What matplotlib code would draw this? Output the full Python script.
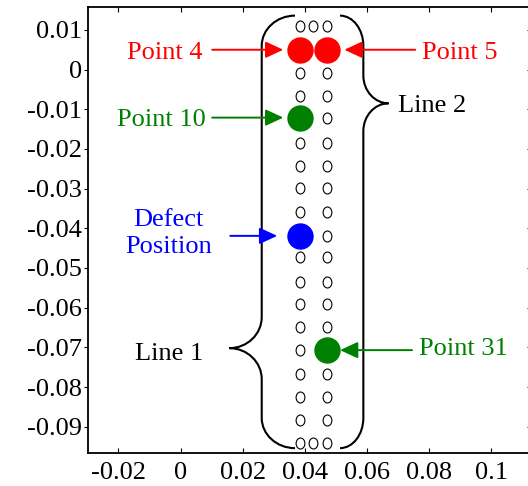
import matplotlib
matplotlib.use("Agg")
import matplotlib.pyplot as plt
from matplotlib.path import Path
from matplotlib.patches import PathPatch, ArrowStyle
from matplotlib.transforms import Affine2D

plt.rcParams['font.family'] = ['Liberation Serif', 'DejaVu Serif']
plt.rcParams['font.size'] = 19
plt.rcParams['axes.unicode_minus'] = False

# sensor layout: two columns, plus a middle sensor on the first and last row
col_x = [0.0385, 0.0426, 0.0471]
row_y = [0.0110, 0.0050, -0.0008, -0.0066, -0.0121, -0.0186, -0.0242, -0.0299,
         -0.0358, -0.0419, -0.0473, -0.0535, -0.0591, -0.0649, -0.0707,
         -0.0767, -0.0824, -0.0883, -0.0940]

# highlighted points (numbered from 1, row by row)
hl_num = [4, 5, 10, 20, 31]
hl_label = ['Point 4', 'Point 5', 'Point 10', 'Defect\nPosition', 'Point 31']
hl_color = ['#ff0000', '#ff0000', '#008000', '#0000ff', '#008000']
# arrow lengths in points: tail offset, tip shrink, text offset, text dy, align
hl_tail = [-63.4, 63.6, -63.4, -50.4, 61.2]
hl_shrink = [12.2, 12.5, 12.2, 16.6, 9.4]
hl_text_dx = [-70.6, 68.6, -68.4, -95.0, 66.2]
hl_text_dy = [-6.5, -6.7, -5.8, -12.5, -3.6]
hl_ha = ['right', 'left', 'right', 'center', 'left']

# braces: vertical x, tip x, end x, top y, bottom y, tip y
brace_names = ['Line 1', 'Line 2']
brace_xv = [0.0261, 0.0588]
brace_xt = [0.0157, 0.0669]
brace_xe = [0.0368, 0.0513]
brace_yt = [0.0136, 0.0136]
brace_yb = [-0.0954, -0.0954]
brace_ym = [-0.0702, -0.0085]
brace_h = [0.0078, 0.0070]

xticks = [-0.02, 0, 0.02, 0.04, 0.06, 0.08, 0.1]
xtick_labels = ['-0.02', '0', '0.02', '0.04', '0.06', '0.08', '0.1']
yticks = [0.01, 0, -0.01, -0.02, -0.03, -0.04, -0.05, -0.06, -0.07, -0.08, -0.09]
ytick_labels = ['0.01', '0', '-0.01', '-0.02', '-0.03', '-0.04', '-0.05',
                '-0.06', '-0.07', '-0.08', '-0.09']

# point coordinates
px, py = [], []
for i, y in enumerate(row_y):
    if i == 0 or i == len(row_y) - 1:
        cols = col_x
    else:
        cols = [col_x[0], col_x[2]]
    for x in cols:
        px.append(x)
        py.append(y)

fig = plt.figure(figsize=(5.28, 4.86), dpi=100)
ax = fig.add_axes([88.3 / 528, 32.7 / 486, 443.5 / 528, 446 / 486])
ax.set_xlim(-0.0297, 0.1130)
ax.set_ylim(-0.0967, 0.0157)

# slightly tall open circles
oval = Affine2D().scale(0.8, 1.0).transform_path(Path.unit_circle())
ax.plot(px, py, linestyle='none', marker=oval, markersize=7.9,
        markerfacecolor='white', markeredgecolor='black', markeredgewidth=0.8,
        zorder=3)

for n, lab, c, tl, sh, tdx, tdy, ha in zip(hl_num, hl_label, hl_color, hl_tail,
                                           hl_shrink, hl_text_dx, hl_text_dy,
                                           hl_ha):
    x, y = px[n - 1], py[n - 1]
    ax.plot([x], [y], linestyle='none', marker='o', markersize=18,
            color=c, markeredgecolor=c, zorder=4)
    ax.annotate('', xy=(x, y), xytext=(tl, 0), textcoords='offset points',
                arrowprops=dict(arrowstyle=ArrowStyle('-|>', head_length=10.8,
                                                      head_width=5.0),
                                mutation_scale=1, color=c, lw=1.4,
                                shrinkA=0, shrinkB=sh))
    ax.annotate(lab, xy=(x, y), xytext=(tdx, tdy), textcoords='offset points',
                ha=ha, va='baseline', color=c,
                linespacing=1.3, multialignment='center')

# curly braces
k = 0.55
for name, xv, xt, xe, yt, yb, ym, h in zip(brace_names, brace_xv, brace_xt,
                                           brace_xe, brace_yt, brace_yb,
                                           brace_ym, brace_h):
    cy = 0.0076
    verts = [(xe, yt),
             (xe - k * (xe - xv), yt), (xv, yt - cy + k * cy), (xv, yt - cy),
             (xv, ym + h),
             (xv, ym + h - k * h), (xt + k * (xv - xt), ym), (xt, ym),
             (xt + k * (xv - xt), ym), (xv, ym - h + k * h), (xv, ym - h),
             (xv, yb + cy),
             (xv, yb + cy - k * cy), (xe - k * (xe - xv), yb), (xe, yb)]
    codes = ([Path.MOVETO] + [Path.CURVE4] * 3 + [Path.LINETO]
             + [Path.CURVE4] * 6 + [Path.LINETO] + [Path.CURVE4] * 3)
    ax.add_patch(PathPatch(Path(verts, codes), facecolor='none',
                           edgecolor='black', lw=1.5, zorder=2))
    left = xt < xv
    ax.annotate(name, xy=(xt, ym), xytext=(-19 if left else 7, -8.4 if left else -6.3),
                textcoords='offset points', ha='right' if left else 'left',
                va='baseline', color='black')

ax.set_xticks(xticks)
ax.set_xticklabels(xtick_labels)
ax.set_yticks(yticks)
ax.set_yticklabels(ytick_labels)
ax.tick_params(axis='x', direction='in', top=True, length=3.6, width=0.8, pad=6.2)
ax.tick_params(axis='y', direction='out', length=3, width=0.8, pad=1.5)
for s in ax.spines.values():
    s.set_linewidth(1.3)

ax2 = ax.secondary_yaxis('right')
ax2.set_yticks(yticks)
ax2.tick_params(direction='in', length=3.6, width=0.8, labelright=False)

fig.savefig('out.png', dpi=100)
